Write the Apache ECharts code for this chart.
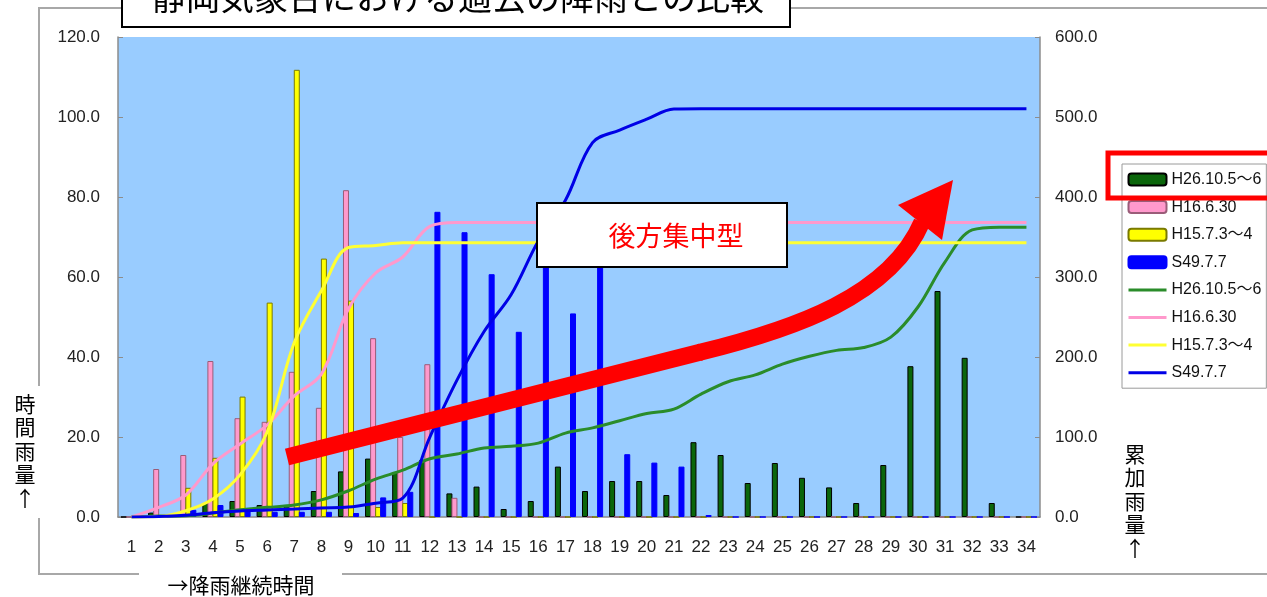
<!DOCTYPE html>
<html>
<head>
<meta charset="utf-8">
<script src="https://cdn.jsdelivr.net/npm/echarts@6/dist/echarts.min.js"></script>
<style>
  html, body { margin: 0; padding: 0; background: #fff; }
  #chart { width: 1267px; height: 597px; }
</style>
</head>
<body>
<div id="chart"></div>
<script>
// 降雨継続時間 (hours since rain began)
const categories = ['1','2','3','4','5','6','7','8','9','10','11','12','13','14','15','16','17',
                    '18','19','20','21','22','23','24','25','26','27','28','29','30','31','32','33','34'];

// Hourly rainfall (mm) per event
const hourlyH26 = [0, 1.1, 0.5, 3.5, 4.0, 3.0, 2.8, 6.5, 11.4, 14.6, 11.1, 14.3, 5.9, 7.6, 2.0, 4.0, 12.6,
                   6.5, 9.0, 9.0, 5.5, 18.7, 15.5, 8.5, 13.5, 9.8, 7.4, 3.5, 13.0, 37.7, 56.5, 39.8, 3.5, 0];
const hourlyH16 = [0, 12.0, 15.5, 39.0, 24.7, 23.8, 36.3, 27.3, 81.7, 44.7, 20.0, 38.2, 4.8, 0, 0, 0, 0,
                   0, 0, 0, 0, 0, 0, 0, 0, 0, 0, 0, 0, 0, 0, 0, 0, 0];
const hourlyH15 = [0, 0.5, 7.3, 14.8, 30.1, 53.6, 111.8, 64.6, 54.1, 2.5, 3.5, 0, 0, 0, 0, 0, 0,
                   0, 0, 0, 0, 0, 0, 0, 0, 0, 0, 0, 0, 0, 0, 0, 0, 0];
const hourlyS49 = [0, 0.5, 1.8, 3.0, 2.2, 1.3, 1.3, 1.3, 1.0, 4.9, 6.3, 76.3, 71.2, 60.7, 46.3, 67.0, 50.9,
                   72.0, 15.7, 13.6, 12.6, 0.5, 0, 0, 0, 0, 0, 0, 0, 0, 0, 0, 0, 0];

// Accumulated rainfall (mm) per event
const totalH26 = [0, 1.1, 1.6, 5.1, 9.1, 12.1, 14.9, 21.4, 32.8, 47.4, 58.5, 72.8, 78.7, 86.3, 88.3, 92.3, 104.9,
                  111.4, 120.4, 129.4, 134.9, 153.6, 169.1, 177.6, 191.1, 200.9, 208.3, 211.8, 224.8, 262.5, 319.0, 358.8, 362.3, 362.3];
const totalH16 = [0, 12.0, 27.5, 66.5, 91.2, 115.0, 151.3, 178.6, 260.3, 305.0, 325.0, 363.2, 368.0, 368.0, 368.0, 368.0, 368.0,
                  368.0, 368.0, 368.0, 368.0, 368.0, 368.0, 368.0, 368.0, 368.0, 368.0, 368.0, 368.0, 368.0, 368.0, 368.0, 368.0, 368.0];
const totalH15 = [0, 0.5, 7.8, 22.6, 52.7, 106.3, 218.1, 282.7, 336.8, 339.3, 342.8, 342.8, 342.8, 342.8, 342.8, 342.8, 342.8,
                  342.8, 342.8, 342.8, 342.8, 342.8, 342.8, 342.8, 342.8, 342.8, 342.8, 342.8, 342.8, 342.8, 342.8, 342.8, 342.8, 342.8];
const totalS49 = [0, 0.5, 2.3, 5.3, 7.5, 8.8, 10.1, 11.4, 12.4, 17.3, 23.6, 99.9, 171.1, 231.8, 278.1, 345.1, 396.0,
                  468.0, 483.7, 497.3, 509.9, 510.4, 510.4, 510.4, 510.4, 510.4, 510.4, 510.4, 510.4, 510.4, 510.4, 510.4, 510.4, 510.4];

// Event names and axis texts
const eventNames = ['H26.10.5～6', 'H16.6.30', 'H15.7.3～4', 'S49.7.7'];
const titleText = '静岡気象台における過去の降雨との比較';
const leftAxisTitle = '時間雨量↑';
const rightAxisTitle = '累加雨量↑';
const xAxisTitle = '→降雨継続時間';
const noteText = '後方集中型';

const JP = "'Noto Sans CJK JP', sans-serif";
const NUM = "'Liberation Sans', 'Noto Sans CJK JP', sans-serif";
const AXIS_GREY = '#8c8c8c';

const barStyles = [
  { color: '#0B660B', borderColor: '#000000', borderWidth: 1 },
  { color: '#FF99CC', borderColor: '#9A5C78', borderWidth: 1 },
  { color: '#FFFF00', borderColor: '#7A7A00', borderWidth: 1 },
  { color: '#0000FF', borderColor: '#0000FF', borderWidth: 1 }
];
const lineColors = ['#2A8C2A', '#FF99CC', '#FFFF33', '#0000E6'];
const hourly = [hourlyH26, hourlyH16, hourlyH15, hourlyS49];
const totals = [totalH26, totalH16, totalH15, totalS49];

// Line series get a trailing space so the legend lists them separately from the bars
const lineName = n => n + ' ';

const barSeries = eventNames.map((n, i) => ({
  name: n,
  type: 'bar',
  yAxisIndex: 0,
  data: hourly[i],
  barWidth: 6,
  barGap: '-16%',
  itemStyle: barStyles[i],
  z: 2
}));

const lineSeries = eventNames.map((n, i) => ({
  name: lineName(n),
  type: 'line',
  yAxisIndex: 1,
  data: totals[i],
  symbol: 'none',
  smooth: 0.35,
  lineStyle: { color: lineColors[i], width: 3 },
  itemStyle: { color: lineColors[i] },
  z: 3
}));

// legend entries: bars use their own rect icon, lines show only a stroke (marker hidden)
const legendData = eventNames.map(n => ({ name: n }))
  .concat(eventNames.map((n, i) => ({
    name: lineName(n),
    itemStyle: { opacity: 0 },
    lineStyle: { color: lineColors[i], width: 3 }
  })));

const chart = echarts.init(document.getElementById('chart'), null, { renderer: 'canvas' });

chart.setOption({
  animation: false,
  backgroundColor: '#ffffff',
  grid: {
    left: 118, right: 227, top: 37, bottom: 80,
    show: true, backgroundColor: '#99CCFF', borderWidth: 0
  },
  legend: {
    orient: 'vertical',
    left: 1122, top: 164,
    padding: [7.5, 5, 7.5, 5],
    itemWidth: 38, itemHeight: 12, itemGap: 11.6,
    backgroundColor: '#ffffff',
    borderColor: '#9a9a9a', borderWidth: 1,
    textStyle: { fontFamily: NUM, fontSize: 16, lineHeight: 16, color: '#111' },
    formatter: name => name.trim(),
    data: legendData
  },
  xAxis: {
    type: 'category',
    data: categories,
    boundaryGap: true,
    axisLine: { lineStyle: { color: AXIS_GREY, width: 1.5 } },
    axisTick: { inside: true, length: 4, lineStyle: { color: AXIS_GREY } },
    axisLabel: { interval: 0, margin: 22, fontFamily: NUM, fontSize: 17, color: '#222' }
  },
  yAxis: [
    {
      type: 'value', min: 0, max: 120, interval: 20, position: 'left',
      axisLine: { show: true, lineStyle: { color: AXIS_GREY, width: 1.5 } },
      axisTick: { show: true, inside: true, length: 5, lineStyle: { color: AXIS_GREY } },
      splitLine: { show: false },
      axisLabel: { margin: 18, fontFamily: NUM, fontSize: 17, color: '#222',
                   formatter: v => v.toFixed(1) }
    },
    {
      type: 'value', min: 0, max: 600, interval: 100, position: 'right',
      axisLine: { show: true, lineStyle: { color: AXIS_GREY, width: 1.5 } },
      axisTick: { show: true, inside: true, length: 5, lineStyle: { color: AXIS_GREY } },
      splitLine: { show: false },
      axisLabel: { margin: 15, fontFamily: NUM, fontSize: 17, color: '#222',
                   formatter: v => v.toFixed(1) }
    }
  ],
  series: barSeries.concat(lineSeries),
  graphic: [
    // outer frame of the chart area
    { type: 'polyline', z: -10, silent: true,
      shape: { points: [[1270, 8], [39, 8], [39, 574], [1270, 574]] },
      style: { stroke: '#a8a8a8', lineWidth: 2, fill: null } },

    // title box, partly above the top edge
    { type: 'rect', z: 50, silent: true,
      shape: { x: 122, y: -20, width: 668, height: 47 },
      style: { fill: '#ffffff', stroke: '#000000', lineWidth: 2 } },
    { type: 'text', z: 51, silent: true, x: 458, y: -3,
      style: { text: titleText, font: `34px ${JP}`, fill: '#000', align: 'center', verticalAlign: 'middle' } },

    // left axis title
    { type: 'rect', z: 50, silent: true,
      shape: { x: 0, y: 386, width: 47, height: 132 }, style: { fill: '#ffffff' } },
    { type: 'text', z: 51, silent: true, x: 25, y: 451,
      style: { text: leftAxisTitle.split('').join('\n'), font: `21px ${JP}`, lineHeight: 23.5,
               fill: '#000', align: 'center', verticalAlign: 'middle' } },

    // right axis title
    { type: 'rect', z: 50, silent: true,
      shape: { x: 1108, y: 432, width: 56, height: 140 }, style: { fill: '#ffffff' } },
    { type: 'text', z: 51, silent: true, x: 1135, y: 501,
      style: { text: rightAxisTitle.split('').join('\n'), font: `21px ${JP}`, lineHeight: 23.5,
               fill: '#000', align: 'center', verticalAlign: 'middle' } },

    // x axis title
    { type: 'rect', z: 50, silent: true,
      shape: { x: 139, y: 564, width: 203, height: 40 }, style: { fill: '#ffffff' } },
    { type: 'text', z: 51, silent: true, x: 241, y: 585,
      style: { text: xAxisTitle, font: `21px ${JP}`, fill: '#000', align: 'center', verticalAlign: 'middle' } },

    // trend arrow: straight shaft, curved end, then head
    { type: 'line', z: 60, silent: true,
      shape: { x1: 287, y1: 457, x2: 701, y2: 352 },
      style: { stroke: '#FF0000', lineWidth: 17, lineCap: 'butt' } },
    { type: 'bezierCurve', z: 60, silent: true,
      shape: { x1: 699, y1: 352.5, cpx1: 795, cpy1: 329, cpx2: 890, cpy2: 296, x2: 922, y2: 222 },
      style: { stroke: '#FF0000', lineWidth: 17, fill: null, lineCap: 'butt' } },
    { type: 'polygon', z: 60, silent: true,
      shape: { points: [[953, 180], [898, 205], [942, 240]] },
      style: { fill: '#FF0000' } },

    // annotation box
    { type: 'rect', z: 61, silent: true,
      shape: { x: 537, y: 203, width: 250, height: 64 },
      style: { fill: '#ffffff', stroke: '#000000', lineWidth: 2 } },
    { type: 'text', z: 62, silent: true, x: 676, y: 236,
      style: { text: noteText, font: `27px ${JP}`, fill: '#FF0000', align: 'center', verticalAlign: 'middle' } },

    // highlight around the first legend entry
    { type: 'rect', z: 70, silent: true,
      shape: { x: 1108, y: 153, width: 180, height: 45 },
      style: { fill: null, stroke: '#FF0000', lineWidth: 5 } }
  ]
});
</script>
</body>
</html>
